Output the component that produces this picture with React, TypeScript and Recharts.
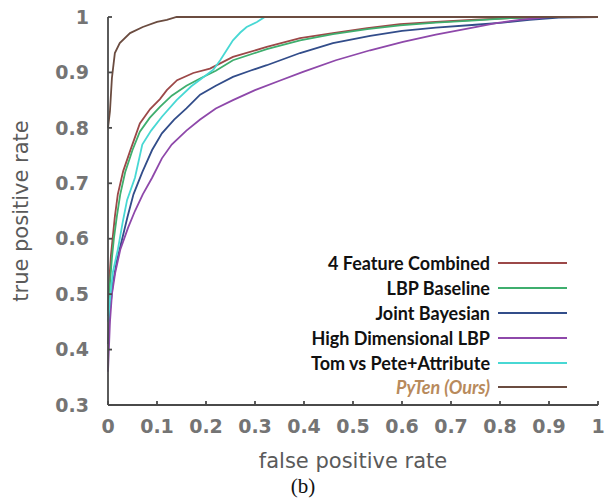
import { LineChart, Line, XAxis, YAxis } from 'recharts';

// ROC curves, (b) panel

const fprTicks = [0, 0.1, 0.2, 0.3, 0.4, 0.5, 0.6, 0.7, 0.8, 0.9, 1];
const tprTicks = [0.3, 0.4, 0.5, 0.6, 0.7, 0.8, 0.9, 1];

const combinedFpr = [0, 0.003, 0.006, 0.01, 0.014, 0.02, 0.031, 0.045, 0.065, 0.086, 0.106, 0.12, 0.141, 0.174, 0.208, 0.255, 0.324, 0.392, 0.459, 0.529, 0.596, 0.669, 0.75, 0.82, 0.9, 1];
const combinedTpr = [0.47, 0.53, 0.57, 0.605, 0.64, 0.68, 0.722, 0.758, 0.808, 0.834, 0.852, 0.868, 0.886, 0.899, 0.907, 0.928, 0.946, 0.962, 0.971, 0.98, 0.987, 0.991, 0.995, 0.998, 1, 1];

const lbpFpr = [0, 0.004, 0.008, 0.012, 0.018, 0.025, 0.035, 0.05, 0.065, 0.085, 0.106, 0.13, 0.16, 0.19, 0.22, 0.255, 0.324, 0.392, 0.459, 0.529, 0.596, 0.669, 0.75, 0.82, 0.9, 1];
const lbpTpr = [0.46, 0.52, 0.565, 0.6, 0.64, 0.68, 0.72, 0.76, 0.793, 0.818, 0.838, 0.858, 0.876, 0.89, 0.903, 0.922, 0.942, 0.958, 0.969, 0.978, 0.985, 0.99, 0.994, 0.998, 1, 1];

const jointFpr = [0, 0.004, 0.01, 0.018, 0.029, 0.04, 0.052, 0.07, 0.09, 0.11, 0.135, 0.16, 0.188, 0.22, 0.255, 0.29, 0.324, 0.392, 0.459, 0.535, 0.6, 0.669, 0.75, 0.806, 0.86, 0.92, 1];
const jointTpr = [0.41, 0.47, 0.52, 0.56, 0.6, 0.64, 0.68, 0.72, 0.76, 0.79, 0.815, 0.835, 0.86, 0.876, 0.892, 0.903, 0.913, 0.935, 0.953, 0.966, 0.975, 0.981, 0.986, 0.99, 0.995, 0.999, 1];

const highDimFpr = [0, 0.004, 0.008, 0.015, 0.025, 0.041, 0.055, 0.071, 0.09, 0.11, 0.13, 0.16, 0.188, 0.22, 0.255, 0.3, 0.35, 0.398, 0.465, 0.535, 0.602, 0.669, 0.739, 0.792, 0.84, 0.9, 1];
const highDimTpr = [0.36, 0.45, 0.5, 0.54, 0.58, 0.62, 0.65, 0.68, 0.71, 0.745, 0.77, 0.795, 0.815, 0.835, 0.85, 0.868, 0.885, 0.901, 0.922, 0.94, 0.955, 0.968, 0.98, 0.989, 0.995, 1, 1];

const tomPeteFpr = [0, 0.005, 0.01, 0.02, 0.03, 0.039, 0.055, 0.07, 0.088, 0.11, 0.14, 0.17, 0.2, 0.215, 0.229, 0.242, 0.255, 0.27, 0.283, 0.304, 0.32, 1];
const tomPeteTpr = [0.45, 0.5, 0.54, 0.58, 0.63, 0.67, 0.71, 0.77, 0.795, 0.82, 0.85, 0.875, 0.895, 0.905, 0.922, 0.94, 0.958, 0.972, 0.982, 0.991, 1, 1];

const pytenFpr = [0, 0.004, 0.008, 0.014, 0.024, 0.045, 0.071, 0.1, 0.12, 0.14, 1];
const pytenTpr = [0.8, 0.83, 0.89, 0.935, 0.953, 0.971, 0.982, 0.991, 0.995, 1, 1];

interface Series {
  name: string;
  color: string;
  fpr: number[];
  tpr: number[];
  labelColor?: string;
  italic?: boolean;
}

const series: Series[] = [
  { name: '4 Feature Combined', color: '#9c4848', fpr: combinedFpr, tpr: combinedTpr },
  { name: 'LBP Baseline', color: '#3fae6e', fpr: lbpFpr, tpr: lbpTpr },
  { name: 'Joint Bayesian', color: '#324d8a', fpr: jointFpr, tpr: jointTpr },
  { name: 'High Dimensional LBP', color: '#8e48aa', fpr: highDimFpr, tpr: highDimTpr },
  { name: 'Tom vs Pete+Attribute', color: '#48d8d4', fpr: tomPeteFpr, tpr: tomPeteTpr },
  { name: 'PyTen (Ours)', color: '#6b4c40', fpr: pytenFpr, tpr: pytenTpr, labelColor: '#b88a5c', italic: true },
];

const toPoints = (fpr: number[], tpr: number[]) => fpr.map((x, i) => ({ fpr: x, tpr: tpr[i] }));

const fmt = (v: number) => (v === 0 ? '0' : v === 1 ? '1' : String(v));

const axisColor = '#4a4a4a';
const textFont = 'DejaVu Sans, sans-serif';
const tickStyle = { fill: '#747474', fontSize: 19, fontWeight: 700, fontFamily: textFont };
const titleStyle = { fill: '#5a5a5a', fontSize: 21, fontFamily: textFont };

const RocLegend = () => (
  <div
    style={{
      position: 'absolute',
      left: 260,
      top: 251,
      width: 307,
      fontFamily: 'Lato, sans-serif',
      fontWeight: 700,
      fontSize: 18,
    }}
  >
    {series.map((s) => (
      <div
        key={s.name}
        style={{ display: 'flex', alignItems: 'center', justifyContent: 'flex-end', height: 24.8 }}
      >
        <span style={{ color: s.labelColor || '#111', fontStyle: s.italic ? 'italic' : 'normal' }}>
          {s.name}
        </span>
        <span
          style={{ display: 'inline-block', width: 69, height: 2, background: s.color, marginLeft: 8 }}
        />
      </div>
    ))}
  </div>
);

export default function App() {
  return (
    <div style={{ position: 'absolute', left: 0, top: 0, width: 606, height: 504, background: '#fff' }}>
      <LineChart width={606} height={504} margin={{ top: 17, right: 8, bottom: 0, left: 0 }}>
        <XAxis
          type="number"
          dataKey="fpr"
          domain={[0, 1]}
          ticks={fprTicks}
          tickFormatter={fmt}
          height={99}
          tickSize={-4}
          tickMargin={19}
          stroke={axisColor}
          strokeWidth={1.8}
          tick={tickStyle}
          label={{
            value: 'false positive rate',
            position: 'insideBottom',
            offset: 36,
            style: titleStyle,
          }}
        />
        <XAxis
          xAxisId="top"
          orientation="top"
          type="number"
          domain={[0, 1]}
          ticks={fprTicks}
          height={0}
          tickSize={-4}
          stroke={axisColor}
          strokeWidth={1.8}
          tick={() => <g />}
        />
        <YAxis
          type="number"
          domain={[0.3, 1]}
          ticks={tprTicks}
          tickFormatter={fmt}
          width={108}
          tickSize={-4}
          tickMargin={23}
          stroke={axisColor}
          strokeWidth={1.8}
          tick={tickStyle}
          label={{
            value: 'true positive rate',
            angle: -90,
            position: 'insideLeft',
            offset: 21,
            style: { ...titleStyle, textAnchor: 'middle' },
          }}
        />
        <YAxis
          yAxisId="right"
          orientation="right"
          type="number"
          domain={[0.3, 1]}
          ticks={tprTicks}
          width={0}
          tickSize={-4}
          stroke={axisColor}
          strokeWidth={1.8}
          tick={() => <g />}
        />
        {series.map((s) => (
          <Line
            key={s.name}
            name={s.name}
            data={toPoints(s.fpr, s.tpr)}
            dataKey="tpr"
            type="linear"
            stroke={s.color}
            strokeWidth={1.8}
            dot={false}
            isAnimationActive={false}
          />
        ))}
      </LineChart>
      <RocLegend />
      <div
        style={{
          position: 'absolute',
          left: 0,
          width: 606,
          top: 474,
          textAlign: 'center',
          fontFamily: 'Liberation Serif, serif',
          fontSize: 21,
          color: '#111',
          lineHeight: '24px',
        }}
      >
        (b)
      </div>
    </div>
  );
}
